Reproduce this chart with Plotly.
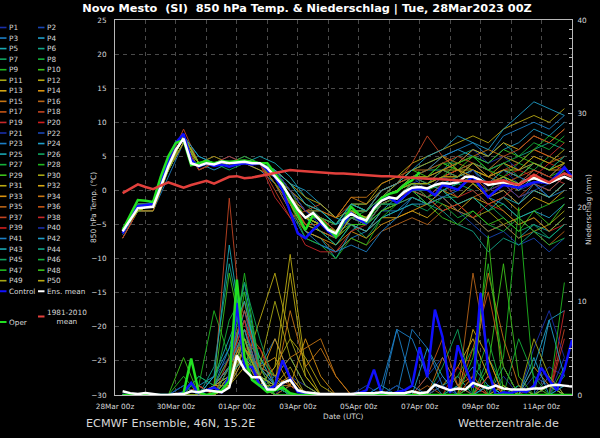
import plotly.graph_objects as go
import pandas as pd

# ---------------- time axes ----------------
t6 = pd.date_range("2023-03-28 06:00", periods=60, freq="6h")
t12 = pd.date_range("2023-03-28 06:00", periods=30, freq="12h")

# ---------------- key series (6-hourly) ----------------
ens_mean_temp = [-6.0, -4.3, -2.6, -2.5, -2.4, 0.5, 3.5, 6.0, 7.6, 4.0,
                 3.6, 4.0, 3.8, 4.2, 4.0, 4.1, 4.2, 4.0, 4.0, 3.3,
                 2.0, 0.8, -1.0, -2.8, -4.0, -3.3, -4.5, -5.8, -6.3, -4.3,
                 -3.4, -4.0, -4.4, -2.6, -1.5, -1.0, -1.2, -0.2, 0.4, 0.5,
                 0.3, 0.8, 1.1, 1.0, 1.2, 2.0, 2.0, 1.5, 0.8, 1.0,
                 1.2, 1.0, 0.8, 1.5, 1.8, 1.4, 1.1, 1.6, 2.0, 1.5]
control_temp = [-6.3, -4.0, -2.3, -2.2, -2.0, 1.5, 4.5, 7.0, 8.3, 4.5,
                3.5, 4.0, 3.6, 3.8, 3.5, 3.8, 4.0, 3.8, 4.0, 3.0,
                2.0, 0.0, -3.0, -6.3, -7.0, -5.8, -4.8, -6.0, -6.8, -4.8,
                -3.3, -4.2, -4.8, -2.5, -1.4, -1.0, -1.8, -0.8, 0.1, 0.2,
                0.1, -0.7, 0.8, 0.5, 0.1, 1.2, 2.0, 0.5, -1.0, 0.0,
                0.8, 0.6, 0.4, 0.8, 1.2, 1.2, 1.1, 2.2, 3.4, 2.0]
oper_temp = [-5.8, -3.5, -1.4, -1.5, -1.7, 2.0, 5.0, 7.0, 7.4, 3.7,
             4.0, 4.3, 4.0, 4.3, 4.2, 4.3, 4.4, 4.2, 4.0, 4.0,
             2.5, 1.0, -1.5, -3.5, -5.8, -3.6, -4.3, -5.5, -6.8, -4.5,
             -2.4, -3.5, -4.6, -2.8, -1.1, -0.5, -0.2, 0.8, 1.5, 2.7]
clim_temp = [-0.4, 0.3, 0.9, 0.5, 0.2, 0.7, 1.2, 0.8, 0.4, 0.8,
             1.1, 1.4, 1.0, 1.5, 2.0, 2.1, 1.8, 1.9, 2.1, 2.4,
             2.6, 2.8, 3.0, 2.9, 2.8, 2.7, 2.7, 2.6, 2.5, 2.5,
             2.4, 2.3, 2.3, 2.2, 2.1, 2.1, 2.0, 1.9, 1.9, 1.8,
             1.7, 1.7, 1.6, 1.5, 1.5, 1.4, 1.3, 1.3, 1.2, 1.3,
             1.5, 1.1, 0.8, 1.5, 2.3, 1.7, 1.2, 1.9, 2.5, 2.0]
ens_mean_precip = [0.4, 0.2, 0.1, 0.2, 0.1, 0.0, 0.0, 0.1, 0.1, 0.4,
                   0.3, 0.5, 0.4, 0.3, 0.8, 4.2, 2.7, 1.9, 1.9, 0.6,
                   0.6, 1.3, 1.6, 0.5, 0.3, 0.2, 0.1, 0.1, 0.1, 0.1,
                   0.1, 0.2, 0.2, 0.2, 0.3, 0.2, 0.2, 0.2, 0.4, 0.2,
                   0.3, 1.1, 0.8, 0.5, 0.7, 0.6, 1.3, 1.0, 0.7, 1.0,
                   0.7, 0.6, 0.6, 0.6, 0.7, 0.7, 1.0, 1.1, 1.0, 0.9]
control_precip = [0, 0, 0, 0, 0, 0, 0, 0, 0.3, 1.3,
                  0.2, 0.5, 0.8, 0.3, 2.0, 9.8, 3.0, 3.0, 1.0, 0.5,
                  1.0, 3.7, 1.8, 0.3, 0.2, 0, 0, 0, 0, 0,
                  0, 0.2, 0.5, 2.7, 0.2, 0, 0.3, 0.5, 1.0, 5.1,
                  1.9, 9.1, 6.2, 0.2, 5.3, 3.0, 0.8, 10.9, 2.7, 0,
                  0.3, 0.2, 0.5, 0.3, 1.0, 2.9, 1.6, 0.5, 2.7, 5.9]
oper_precip = [0, 0, 0, 0, 0, 0, 0, 0, 0.2, 3.9,
               0.3, 0, 0.2, 0.5, 1.5, 12.3, 4.0, 1.6, 1.0, 0.3,
               0.5, 0.8, 0.2, 0, 0, 0, 0, 0, 0, 0,
               0, 0, 0, 0, 0, 0, 0, 0, 0, 0,
               0, 0, 0, 0, 0, 0, 0, 0, 0, 0,
               0, 0, 0, 0, 0, 0, 0, 0, 0, 0]

# ---------------- ensemble members (12-hourly) ----------------
member_names = ["P%d" % i for i in range(1, 51)]
member_temp = [
    [-6, -3, -2, 3, 7, 4, 4, 4, 5, 4, 2, -2, -5, -6, -7, -4, -5, -2, -1, 1, 0, 2, 3, 4, 2, 3, 1, 3, 2, 4],
    [-6, -2, -2, 4, 8, 4, 4, 5, 4, 4, 3, 0, -3, -4, -5, -2, -3, -1, 0, 2, 1, 3, 2, 3, 1, 2, 0, 1, -1, 1],
    [-6.5, -3, -3, 2, 7, 3, 4, 4, 4, 3, 1, -3, -7, -8, -9, -7, -6, -3, -3, -1, -2, 0, 1, 2, -1, 0, -2, 1, 0, 2],
    [-7, -3, -2, 3, 8, 4, 3, 4, 4, 4, 2, -1, -4, -5, -6, -3, -4, -1, 1, 3, 4, 5, 6, 5, 4, 6, 7, 9, 8, 10],
    [-6, -2, -2, 4, 8, 5, 4, 4, 4, 5, 4, 2, -1, -3, -5, -4, -5, -3, -2, 0, -2, -1, -3, -4, -6, -5, -7, -5, -6, -4],
    [-6, -3, -2, 3, 7, 4, 4, 4, 4, 4, 2, -1, -3, -3, -5, -2, -2, 0, 1, 2, 3, 3, 5, 6, 5, 7, 5, 6, 7, 6],
    [-6, -3, -3, 3, 8, 4, 4, 3, 4, 4, 3, 1, -2, -4, -6, -5, -7, -4, -3, -2, -3, -1, -1, 1, 0, 2, 1, 3, 2, 4],
    [-5.5, -2, -2, 4, 8, 4, 5, 4, 4, 4, 2, -2, -5, -5, -7, -4, -3, -1, 0, 1, 1, 2, 3, 4, 3, 5, 4, 3, 5, 4],
    [-6, -3, -2, 3, 7, 4, 4, 4, 4, 4, 1, -2, -5, -6, -8, -5, -5, -2, -2, 0, -1, 0, -2, -1, -3, -2, -4, -3, -2, -1],
    [-6, -2, -2, 3, 8, 4, 4, 4, 5, 4, 3, 0, -4, -5, -7, -3, -4, -1, 0, 2, 2, 4, 3, 2, 1, 3, 2, 4, 3, 5],
    [-6, -3, -2, 4, 8, 3, 4, 4, 4, 4, 2, -1, -3, -4, -6, -3, -4, -2, -1, 0, -1, -3, -2, -4, -3, -5, -4, -6, -5, -3],
    [-7, -3, -3, 3, 7, 4, 4, 4, 4, 4, 2, 0, -3, -4, -5, -2, -2, 1, 2, 4, 5, 6, 7, 8, 7, 9, 10, 11, 10, 12],
    [-6, -3, -2, 3, 8, 4, 4, 4, 4, 3, 2, -1, -5, -6, -7, -5, -6, -4, -4, -3, -4, -2, -3, -1, -2, -1, -3, -1, -2, 0],
    [-6, -2, -2, 4, 8, 4, 4, 4, 4, 4, 2, -1, -4, -5, -6, -3, -4, -1, 0, 1, 0, 2, 2, 3, 2, 3, 2, 4, 3, 3],
    [-6, -3, -2, 3, 8, 4, 5, 4, 4, 4, 3, 0, -3, -3, -4, -1, -1, 1, 2, 3, 3, 5, 4, 3, 2, 1, -1, 0, -1, 1],
    [-6, -3, -3, 3, 7, 4, 4, 4, 4, 4, 1, -3, -6, -7, -9, -7, -8, -6, -5, -4, -5, -3, -2, -1, 0, 1, 0, 2, 1, 3],
    [-6, -3, -2, 3, 8, 4, 4, 4, 4, 4, 2, -1, -4, -4, -6, -4, -4, -2, -1, 1, 1, 2, 3, 4, 3, 4, 3, 5, 4, 5],
    [-6, -2, -2, 4, 9, 4, 4, 5, 4, 4, 0, -4, -3, -2, -4, -2, -3, 0, 1, 4, 8, 5, 3, 2, 0, 1, -1, 1, 0, 2],
    [-6, -3, -2, 3, 8, 4, 4, 4, 4, 4, 2, -1, -5, -5, -7, -4, -5, -2, -1, 1, 1, 3, 2, 4, 2, 3, 4, 6, 5, 7],
    [-7, -3, -2, 3, 7, 3, 4, 4, 4, 4, 2, -1, -4, -5, -6, -3, -3, -1, 0, 1, -1, -3, -2, -4, -2, -3, -5, -4, -6, -5],
    [-6, -3, -2, 3, 8, 4, 4, 4, 4, 4, 3, 0, -3, -5, -6, -4, -5, -2, -1, 1, 2, 3, 4, 6, 4, 5, 3, 4, 3, 5],
    [-6, -2, -2, 4, 8, 4, 4, 4, 4, 4, 2, -1, -4, -5, -6, -2, -3, 0, 1, 2, 0, -1, -3, -5, -7, -6, -8, -7, -9, -7],
    [-6, -3, -2, 3, 7, 4, 4, 4, 4, 4, 2, -1, -4, -4, -5, -3, -3, -1, 0, 2, 3, 5, 6, 7, 5, 8, 9, 10, 9, 11],
    [-6, -3, -2, 3, 8, 5, 4, 4, 4, 4, 3, 1, 0, -2, -4, -5, -6, -4, -3, -2, -2, 0, 1, 2, -1, -2, -4, -3, -4, -2],
    [-6, -3, -1.5, 3, 8, 4, 4, 4, 4, 4, 2, -2, -6, -7, -10, -6, -4, -2, -1, 0, -1, 1, 2, 3, 1, 2, 0, 2, 1, 3],
    [-6, -2, -2, 4, 8, 4, 4, 4, 4, 4, 1, -1, -4, -5, -7, -4, -5, -3, -2, 0, -1, 0, 1, 0, -2, -4, -6, -5, -7, -5],
    [-6, -3, -2, 3, 8, 4, 4, 4, 4, 4, 2, 0, -2, -3, -5, -2, -3, -1, 0, 2, 3, 4, 4, 5, 3, 4, 5, 7, 6, 8],
    [-6, -3, -2, 3, 7, 4, 4, 4, 4, 4, 1, -2, -7, -8, -10, -7, -8, -4, -2, 0, 0, 1, 1, 2, 1, 2, 1, 3, 2, 3],
    [-6, -3, -2, 3, 8, 4, 4, 4, 4, 4, 2, -1, -4, -4, -5, -2, -3, 0, 1, 3, 2, 4, 3, 5, 4, 6, 5, 4, 3, 4],
    [-6, -3, -2, 3, 8, 4, 4, 4, 4, 4, 2, -1, -4, -5, -6, -3, -3, -1, 1, 3, 4, 5, 3, 1, -1, -3, -5, -4, -6, -4],
    [-6, -3, -2, 3, 8, 4, 4, 4, 4, 4, 3, 1, -1, -2, -4, -3, -5, -2, -1, 1, 0, 2, 3, 3, 2, 4, 3, 5, 4, 6],
    [-6, -3, -2, 3, 8, 4, 4, 4, 4, 4, 2, -1, -4, -5, -7, -4, -4, -1, 0, 1, 1, 3, 4, 6, 5, 7, 6, 8, 7, 9],
    [-6, -3, -2, 3, 7, 4, 4, 4, 4, 4, 2, -2, -6, -7, -8, -6, -7, -5, -4, -3, -2, 0, -1, 1, -1, 0, -2, 0, -1, 1],
    [-6, -3, -2, 3, 8, 4, 4, 4, 4, 4, 2, 0, -2, -3, -4, -1, -2, 0, 1, 2, 2, 3, 4, 5, 6, 5, 4, 6, 5, 4],
    [-6, -3, -2, 3, 8, 4, 4, 4, 4, 4, 2, -1, -4, -6, -7, -5, -6, -3, -2, -1, -2, -1, -3, -4, -6, -5, -7, -6, -8, -6],
    [-6, -3, -2, 3, 8, 4, 4, 4, 4, 4, 1, -2, -5, -5, -6, -3, -3, 0, 1, 2, 1, 3, 2, 4, 3, 1, 2, 3, 2, 4],
    [-6, -3, -2, 3, 8, 4, 4, 4, 4, 4, 2, -1, -3, -4, -6, -3, -4, -1, 0, 2, 3, 4, 5, 4, 3, 5, 6, 8, 7, 9],
    [-6, -3, -2, 3, 8, 4, 4, 4, 4, 4, -1, -4, -8, -9, -9, -6, -5, -2, -1, 0, -1, 1, -1, 0, -2, -1, 1, 3, 2, 1],
    [-6, -3, -2, 3, 8, 4, 4, 4, 4, 4, 2, -1, -4, -5, -6, -4, -5, -2, -1, 1, 1, 2, 3, 2, 1, 2, 3, 2, 4, 3],
    [-6, -3, -2, 3, 8, 4, 4, 4, 4, 4, 3, 0, -3, -5, -6, -3, -4, -1, 0, 1, 0, 2, 1, 3, 0, 1, -1, 0, 1, 2],
    [-6, -3, -2, 3, 8, 4, 4, 4, 4, 4, 2, -1, -6, -8, -9, -8, -9, -6, -4, -1, -2, -1, 0, 2, 1, 3, 2, 1, -1, 0],
    [-6, -3, -2, 3, 8, 4, 4, 4, 4, 4, 3, 1, -2, -3, -5, -2, -3, 0, 1, 3, 5, 6, 8, 7, 6, 9, 11, 13, 12, 11],
    [-6, -3, -2, 3, 8, 4, 4, 4, 4, 4, 2, -1, -4, -6, -8, -5, -6, -3, -1, 1, 1, 0, -2, -1, -3, -1, -2, 0, -1, 1],
    [-6, -3, -2, 3, 8, 4, 4, 4, 4, 4, 2, -1, -4, -5, -6, -4, -5, -2, -2, -1, -2, -3, -5, -6, -9, -7, -8, -6, -7, -5],
    [-6, -3, -2, 3, 8, 4, 4, 4, 4, 4, 2, -1, -4, -5, -6, -3, -3, -1, 0, 2, 1, 3, 2, 4, 3, 4, 2, 4, 3, 5],
    [-6, -3, -2, 3, 8, 4, 4, 4, 4, 4, 2, -1, -4, -5, -6, -4, -4, -2, -1, 1, -1, -2, -4, -3, -5, -6, -4, -6, -8, -7],
    [-6, -3, -2, 3, 8, 4, 4, 4, 4, 4, 2, -1, -4, -5, -6, -3, -4, -1, 0, 1, 1, 2, 4, 5, 3, 2, 4, 6, 8, 7],
    [-6, -3, -2, 3, 8, 4, 4, 4, 4, 4, 2, -1, -4, -5, -7, -5, -5, -3, -2, 0, -2, -4, -5, -3, -5, -4, -6, -3, -5, -2],
    [-6, -3, -2, 3, 8, 4, 4, 4, 4, 4, 2, -1, -4, -5, -6, -3, -4, -1, 0, 2, 2, 3, 3, 2, 1, 2, 1, 2, 1, 2],
    [-6, -3, -2, 3, 8, 4, 4, 4, 4, 4, 2, -1, -4, -5, -6, -3, -4, -1, 0, 1, 1, 2, 2, 4, 2, 3, 3, 4, 3, 4],
]
member_precip = [
    [0, 0, 0, 0, 0, 1, 0, 2, 6, 1, 0, 2, 1, 0, 0, 0, 0, 0, 1, 0, 0, 2, 0, 1, 0, 0, 0, 1, 3, 2],
    [0, 0, 0, 0, 1, 0, 1, 3, 9, 2, 1, 0, 0, 0, 0, 0, 0, 0, 0, 0, 2, 4, 1, 0, 0, 0, 0, 2, 1, 0],
    [0, 0, 0, 0, 0, 0, 0, 1, 4, 3, 6, 2, 0, 0, 0, 0, 0, 0, 0, 7, 5, 1, 0, 0, 2, 0, 1, 0, 0, 1],
    [0, 0, 0, 0, 0, 1, 2, 5, 12, 3, 1, 0, 0, 0, 0, 0, 0, 1, 0, 0, 0, 0, 1, 3, 1, 0, 0, 0, 8, 9],
    [0, 0, 0, 0, 0, 0, 1, 2, 7, 1, 2, 4, 1, 0, 0, 0, 0, 0, 0, 0, 0, 1, 2, 0, 0, 0, 1, 0, 0, 0],
    [0, 0, 0, 0, 1, 0, 3, 14, 6, 2, 0, 1, 0, 0, 0, 0, 0, 0, 0, 0, 0, 0, 1, 0, 0, 3, 0, 0, 1, 0],
    [0, 0, 0, 0, 0, 2, 1, 3, 8, 4, 1, 0, 0, 0, 0, 0, 0, 0, 1, 0, 0, 0, 0, 0, 4, 1, 0, 0, 0, 2],
    [0, 0, 0, 0, 0, 0, 0, 2, 5, 2, 1, 1, 0, 0, 0, 0, 0, 0, 0, 0, 0, 0, 2, 5, 0, 0, 1, 0, 0, 0],
    [0, 0, 0, 0, 0, 1, 9, 4, 3, 1, 0, 0, 0, 0, 0, 0, 0, 0, 0, 0, 0, 0, 0, 1, 1, 0, 0, 0, 0, 0],
    [0, 0, 0, 0, 0, 0, 0, 1, 11, 2, 0, 1, 0, 0, 0, 0, 0, 0, 0, 0, 0, 0, 0, 0, 3, 14, 2, 0, 1, 0],
    [0, 0, 0, 0, 0, 0, 0, 2, 4, 1, 3, 6, 2, 0, 0, 0, 0, 0, 0, 0, 0, 0, 0, 0, 0, 1, 0, 0, 0, 0],
    [0, 0, 0, 0, 0, 0, 1, 1, 3, 8, 13, 6, 4, 1, 0, 0, 0, 0, 0, 0, 0, 0, 0, 2, 0, 1, 0, 0, 0, 0],
    [0, 0, 0, 0, 0, 0, 0, 2, 6, 2, 1, 2, 0, 0, 0, 0, 0, 0, 0, 0, 0, 1, 3, 6, 2, 0, 0, 0, 2, 0],
    [0, 0, 0, 0, 0, 1, 0, 1, 5, 3, 4, 1, 6, 2, 0, 0, 0, 0, 0, 0, 0, 0, 0, 0, 0, 0, 0, 3, 1, 0],
    [0, 0, 0, 0, 0, 0, 1, 4, 3, 2, 1, 9, 3, 5, 2, 0, 0, 0, 0, 0, 0, 0, 0, 1, 0, 0, 0, 0, 0, 0],
    [0, 0, 0, 0, 0, 0, 0, 3, 10, 2, 0, 0, 0, 0, 0, 0, 0, 0, 0, 0, 1, 0, 0, 13, 4, 0, 0, 0, 0, 0],
    [0, 0, 0, 0, 0, 0, 0, 2, 7, 5, 2, 1, 0, 0, 0, 0, 0, 0, 0, 0, 2, 6, 1, 0, 0, 0, 0, 0, 0, 0],
    [0, 0, 0, 0, 0, 0, 1, 21, 4, 2, 0, 0, 0, 0, 0, 0, 0, 0, 0, 0, 0, 0, 0, 0, 2, 0, 0, 0, 0, 7],
    [0, 0, 0, 0, 0, 0, 0, 3, 8, 1, 0, 1, 0, 0, 0, 0, 0, 0, 0, 0, 0, 0, 0, 0, 0, 0, 0, 1, 0, 9],
    [0, 0, 0, 0, 0, 1, 0, 2, 5, 5, 1, 0, 0, 0, 0, 0, 0, 0, 0, 0, 0, 0, 3, 1, 0, 0, 0, 0, 0, 0],
    [0, 0, 0, 0, 0, 0, 1, 2, 6, 1, 0, 0, 0, 0, 0, 0, 0, 0, 0, 0, 0, 1, 0, 0, 0, 2, 0, 5, 9, 4],
    [0, 0, 0, 0, 1, 0, 2, 4, 3, 2, 1, 0, 0, 0, 0, 0, 1, 0, 0, 0, 0, 0, 0, 0, 0, 0, 0, 0, 2, 0],
    [0, 0, 0, 0, 0, 0, 1, 5, 8, 3, 2, 0, 0, 0, 0, 0, 0, 0, 7, 1, 0, 0, 0, 0, 0, 0, 0, 0, 0, 0],
    [0, 0, 0, 0, 0, 1, 0, 3, 9, 4, 1, 0, 0, 0, 0, 0, 0, 0, 0, 0, 5, 2, 0, 0, 0, 0, 0, 4, 0, 0],
    [0, 0, 0, 0, 0, 0, 2, 16, 5, 2, 0, 0, 0, 0, 0, 0, 0, 0, 0, 0, 0, 0, 0, 0, 1, 0, 0, 0, 0, 1],
    [0, 0, 0, 0, 0, 2, 1, 4, 6, 1, 0, 0, 0, 0, 0, 0, 0, 0, 0, 0, 0, 3, 7, 0, 0, 0, 1, 0, 0, 0],
    [0, 0, 0, 0, 0, 0, 0, 3, 7, 2, 1, 0, 0, 0, 0, 0, 0, 0, 0, 0, 0, 0, 0, 1, 6, 0, 0, 0, 0, 0],
    [0, 0, 0, 0, 2, 0, 0, 2, 13, 3, 0, 0, 0, 0, 0, 0, 0, 0, 0, 0, 0, 0, 0, 2, 0, 4, 20, 1, 0, 0],
    [0, 0, 0, 0, 0, 0, 0, 1, 6, 4, 2, 0, 0, 0, 0, 0, 0, 0, 0, 0, 0, 0, 0, 0, 0, 0, 0, 0, 0, 3],
    [0, 0, 0, 0, 0, 0, 0, 1, 5, 3, 10, 4, 1, 0, 0, 0, 0, 0, 0, 0, 0, 0, 0, 0, 0, 0, 0, 6, 2, 0],
    [0, 0, 0, 0, 0, 0, 0, 2, 4, 1, 3, 15, 3, 0, 0, 0, 0, 0, 0, 0, 0, 0, 0, 0, 0, 0, 0, 0, 0, 0],
    [0, 0, 0, 0, 0, 0, 1, 3, 6, 2, 1, 0, 0, 0, 0, 0, 0, 0, 0, 0, 0, 0, 0, 7, 4, 0, 0, 0, 0, 0],
    [0, 0, 0, 0, 0, 0, 1, 1, 4, 2, 6, 2, 0, 0, 0, 0, 0, 0, 0, 0, 0, 0, 0, 0, 0, 0, 0, 0, 0, 0],
    [0, 0, 0, 0, 0, 1, 0, 2, 5, 3, 2, 4, 5, 6, 2, 0, 0, 0, 0, 0, 0, 4, 1, 2, 13, 6, 1, 0, 0, 0],
    [0, 0, 0, 0, 0, 0, 0, 2, 6, 2, 1, 1, 0, 0, 0, 0, 0, 0, 0, 0, 0, 0, 0, 0, 0, 0, 0, 0, 0, 0],
    [0, 0, 0, 0, 0, 0, 1, 3, 7, 2, 1, 0, 0, 0, 0, 0, 0, 0, 0, 0, 0, 0, 0, 5, 11, 3, 0, 0, 0, 0],
    [0, 0, 0, 0, 0, 0, 0, 4, 9, 3, 0, 0, 0, 0, 0, 0, 0, 0, 0, 0, 0, 0, 0, 0, 2, 0, 0, 0, 0, 0],
    [0, 0, 0, 0, 0, 0, 0, 2, 5, 3, 1, 0, 0, 0, 0, 0, 0, 0, 0, 0, 0, 0, 0, 0, 0, 0, 0, 0, 0, 6],
    [0, 0, 0, 0, 0, 1, 0, 3, 8, 1, 0, 0, 0, 0, 0, 0, 0, 0, 0, 0, 0, 0, 0, 2, 0, 0, 0, 0, 0, 0],
    [0, 0, 0, 0, 0, 0, 0, 2, 5, 1, 2, 0, 0, 0, 0, 0, 0, 0, 1, 0, 0, 0, 0, 0, 0, 0, 0, 0, 0, 4],
    [0, 0, 0, 0, 0, 0, 1, 3, 7, 2, 0, 0, 0, 0, 0, 0, 0, 1, 7, 6, 2, 0, 0, 0, 0, 0, 0, 0, 0, 0],
    [0, 0, 0, 0, 0, 0, 0, 2, 4, 2, 1, 0, 0, 0, 0, 0, 0, 0, 0, 0, 0, 0, 0, 0, 1, 0, 0, 3, 8, 2],
    [0, 0, 0, 0, 0, 0, 2, 6, 10, 3, 1, 0, 0, 0, 0, 0, 0, 0, 0, 0, 0, 0, 0, 0, 0, 0, 0, 0, 0, 0],
    [0, 0, 0, 0, 0, 0, 1, 2, 6, 2, 1, 0, 0, 0, 0, 0, 0, 0, 0, 0, 0, 0, 0, 0, 0, 0, 0, 0, 1, 0],
    [0, 0, 0, 0, 0, 0, 0, 3, 12, 6, 1, 0, 0, 0, 0, 0, 0, 0, 0, 0, 0, 0, 0, 0, 0, 0, 0, 0, 0, 0],
    [0, 0, 0, 0, 0, 0, 1, 8, 11, 3, 0, 0, 0, 0, 0, 0, 0, 0, 0, 0, 0, 0, 0, 0, 0, 0, 6, 2, 0, 0],
    [0, 0, 0, 0, 0, 0, 0, 2, 5, 2, 0, 0, 0, 0, 0, 0, 0, 0, 0, 0, 0, 0, 0, 4, 14, 3, 0, 0, 0, 12],
    [0, 0, 0, 0, 4, 0, 1, 13, 5, 1, 0, 0, 0, 0, 0, 0, 0, 0, 0, 0, 0, 0, 0, 0, 17, 0, 0, 0, 0, 0],
    [0, 0, 0, 0, 0, 0, 0, 2, 6, 1, 1, 3, 0, 0, 0, 0, 0, 0, 0, 0, 0, 0, 0, 0, 0, 0, 0, 0, 1, 0],
    [0, 0, 0, 0, 0, 0, 1, 2, 5, 2, 1, 13, 2, 0, 0, 0, 0, 0, 0, 0, 0, 0, 0, 0, 0, 0, 0, 0, 0, 0],
]

# ---------------- styling ----------------
palette = ["#1a2fa8", "#1946b4", "#1c7fc6", "#1f9ec9", "#19a8b4", "#12a487", "#0fa560",
           "#14b03a", "#1fb81f", "#3cc21a", "#a6a614", "#b8a812", "#d4a614", "#d8920f",
           "#c57514", "#b86418", "#c45515", "#c24422", "#c8282a", "#d01e1e"]
color_idx = (list(range(20)) + [0, 1, 2, 3, 4, 6, 7, 8, 9, 10, 11, 12, 13, 14, 15, 16, 17, 18, 19]
             + [0, 2, 3, 4, 5, 6, 7, 8, 9, 10, 11])
member_colors = [palette[i] for i in color_idx]
FONT = "DejaVu Sans"
TXT = "#d8d8d8"
GRID = "#4a4a4a"
C_CTRL, C_MEAN, C_OPER, C_CLIM = "#1010ff", "#ffffff", "#22e022", "#e2403c"

W, H = 600, 438
ML, MR, MT, MB = 115, 28, 20, 43


def px(x):
    return (x - ML) / (W - ML - MR)


def py(y):
    return (H - MB - y) / (H - MT - MB)


fig = go.Figure()

for name, col, tv, pv in zip(member_names, member_colors, member_temp, member_precip):
    fig.add_trace(go.Scatter(x=t12, y=tv, mode="lines", name=name, showlegend=False,
                             line=dict(color=col, width=0.9)))
    fig.add_trace(go.Scatter(x=t12, y=pv, mode="lines", name=name, showlegend=False,
                             yaxis="y2", line=dict(color=col, width=0.9)))

fig.add_trace(go.Scatter(x=t6, y=control_precip, yaxis="y2", mode="lines", showlegend=False,
                         line=dict(color=C_CTRL, width=2.5)))
fig.add_trace(go.Scatter(x=t6, y=oper_precip, yaxis="y2", mode="lines", showlegend=False,
                         line=dict(color=C_OPER, width=2.5)))
fig.add_trace(go.Scatter(x=t6, y=ens_mean_precip, yaxis="y2", mode="lines", showlegend=False,
                         line=dict(color=C_MEAN, width=2.5)))
fig.add_trace(go.Scatter(x=t6, y=control_temp, mode="lines", name="Control", showlegend=False,
                         line=dict(color=C_CTRL, width=2.5)))
fig.add_trace(go.Scatter(x=t6[:len(oper_temp)], y=oper_temp, mode="lines", name="Oper",
                         showlegend=False, line=dict(color=C_OPER, width=2.5)))
fig.add_trace(go.Scatter(x=t6, y=ens_mean_temp, mode="lines", name="Ens. mean", showlegend=False,
                         line=dict(color=C_MEAN, width=2.5)))
fig.add_trace(go.Scatter(x=t6, y=clim_temp, mode="lines", name="1981-2010 mean", showlegend=False,
                         line=dict(color=C_CLIM, width=2.5)))

# ---------------- custom two-column legend ----------------
shapes, annots = [], []
ROW0, DROW = 27.5, 10.55


def legend_item(label, color, col, yc, width=1.6):
    x0 = col * 38
    shapes.append(dict(type="line", xref="paper", yref="paper", x0=px(x0), x1=px(x0 + 6.5),
                       y0=py(yc), y1=py(yc), line=dict(color=color, width=width)))
    annots.append(dict(xref="paper", yref="paper", x=px(x0 + 6.5), y=py(yc), text=label,
                       showarrow=False, xanchor="left", yanchor="middle",
                       font=dict(family=FONT, size=7.3, color=TXT)))


for i, (name, col) in enumerate(zip(member_names, member_colors)):
    legend_item(name, col, i % 2, ROW0 + (i // 2) * DROW)
legend_item("Control", C_CTRL, 0, ROW0 + 25 * DROW, 2)
legend_item("Ens. mean", C_MEAN, 1, ROW0 + 25 * DROW, 2)
legend_item("1981-2010<br>mean", C_CLIM, 1, 316.5, 2)
legend_item("Oper", C_OPER, 0, 322, 2)

# axis titles and captions
annots.append(dict(xref="paper", yref="paper", x=px(93), y=py(208), text="850 hPa Temp. (°C)",
                   textangle=-90, showarrow=False, xanchor="center", yanchor="middle",
                   font=dict(family=FONT, size=7.4, color=TXT)))
annots.append(dict(xref="paper", yref="paper", x=px(589), y=py(210), text="Niederschlag (mm)",
                   textangle=-90, showarrow=False, xanchor="center", yanchor="middle",
                   font=dict(family=FONT, size=7.4, color=TXT)))
annots.append(dict(xref="paper", yref="paper", x=px(343), y=py(416), text="Date (UTC)",
                   showarrow=False, xanchor="center", yanchor="middle",
                   font=dict(family=FONT, size=7.4, color=TXT)))
annots.append(dict(xref="paper", yref="paper", x=px(84), y=py(423), text="ECMWF Ensemble, 46N, 15.2E",
                   showarrow=False, xanchor="left", yanchor="middle",
                   font=dict(family=FONT, size=11.2, color=TXT)))
annots.append(dict(xref="paper", yref="paper", x=px(561), y=py(423), text="Wetterzentrale.de",
                   showarrow=False, xanchor="right", yanchor="middle",
                   font=dict(family=FONT, size=11.2, color=TXT)))

DAY = 86400000
fig.update_layout(
    width=W, height=H,
    margin=dict(l=ML, r=MR, t=MT, b=MB),
    paper_bgcolor="black", plot_bgcolor="black",
    showlegend=False,
    title=dict(text="Novo Mesto\u00a0 (SI)\u00a0 850 hPa Temp. & Niederschlag | Tue, 28Mar2023 00Z",
               x=307 / W, xanchor="center", y=1 - 8 / H, yanchor="middle", yref="container",
               font=dict(family=FONT, size=11.3, color="white", weight="bold")),
    xaxis=dict(range=["2023-03-28 00:00", "2023-04-12 00:00"], type="date",
               tick0="2023-03-28", dtick=2 * DAY, tickformat="%d%b %Hz",
               tickfont=dict(family=FONT, size=7.3, color=TXT), ticks="", ticklabelstandoff=4,
               showgrid=True, gridcolor=GRID, griddash="4px,4px", gridwidth=1,
               minor=dict(dtick=DAY, showgrid=True, gridcolor=GRID, griddash="4px,4px"),
               showline=True, linecolor="#b8b8b8", linewidth=1, mirror=True, zeroline=False),
    yaxis=dict(range=[-30, 25], tick0=0, dtick=5, ticks="", ticklabelstandoff=6,
               tickfont=dict(family=FONT, size=7.3, color=TXT),
               showgrid=True, gridcolor=GRID, griddash="4px,4px", gridwidth=1, zeroline=False,
               showline=True, linecolor="#b8b8b8", linewidth=1),
    yaxis2=dict(range=[0, 40], overlaying="y", side="right", tick0=0, dtick=10,
                ticks="inside", ticklen=4, tickcolor="#b8b8b8", ticklabelstandoff=3,
                minor=dict(dtick=1, ticks="inside", ticklen=3, tickcolor="#b8b8b8"),
                tickfont=dict(family=FONT, size=7.3, color=TXT), showgrid=False, zeroline=False,
                showline=True, linecolor="#b8b8b8", linewidth=1),
    shapes=shapes,
    annotations=annots,
)

fig.write_html("out.html")
